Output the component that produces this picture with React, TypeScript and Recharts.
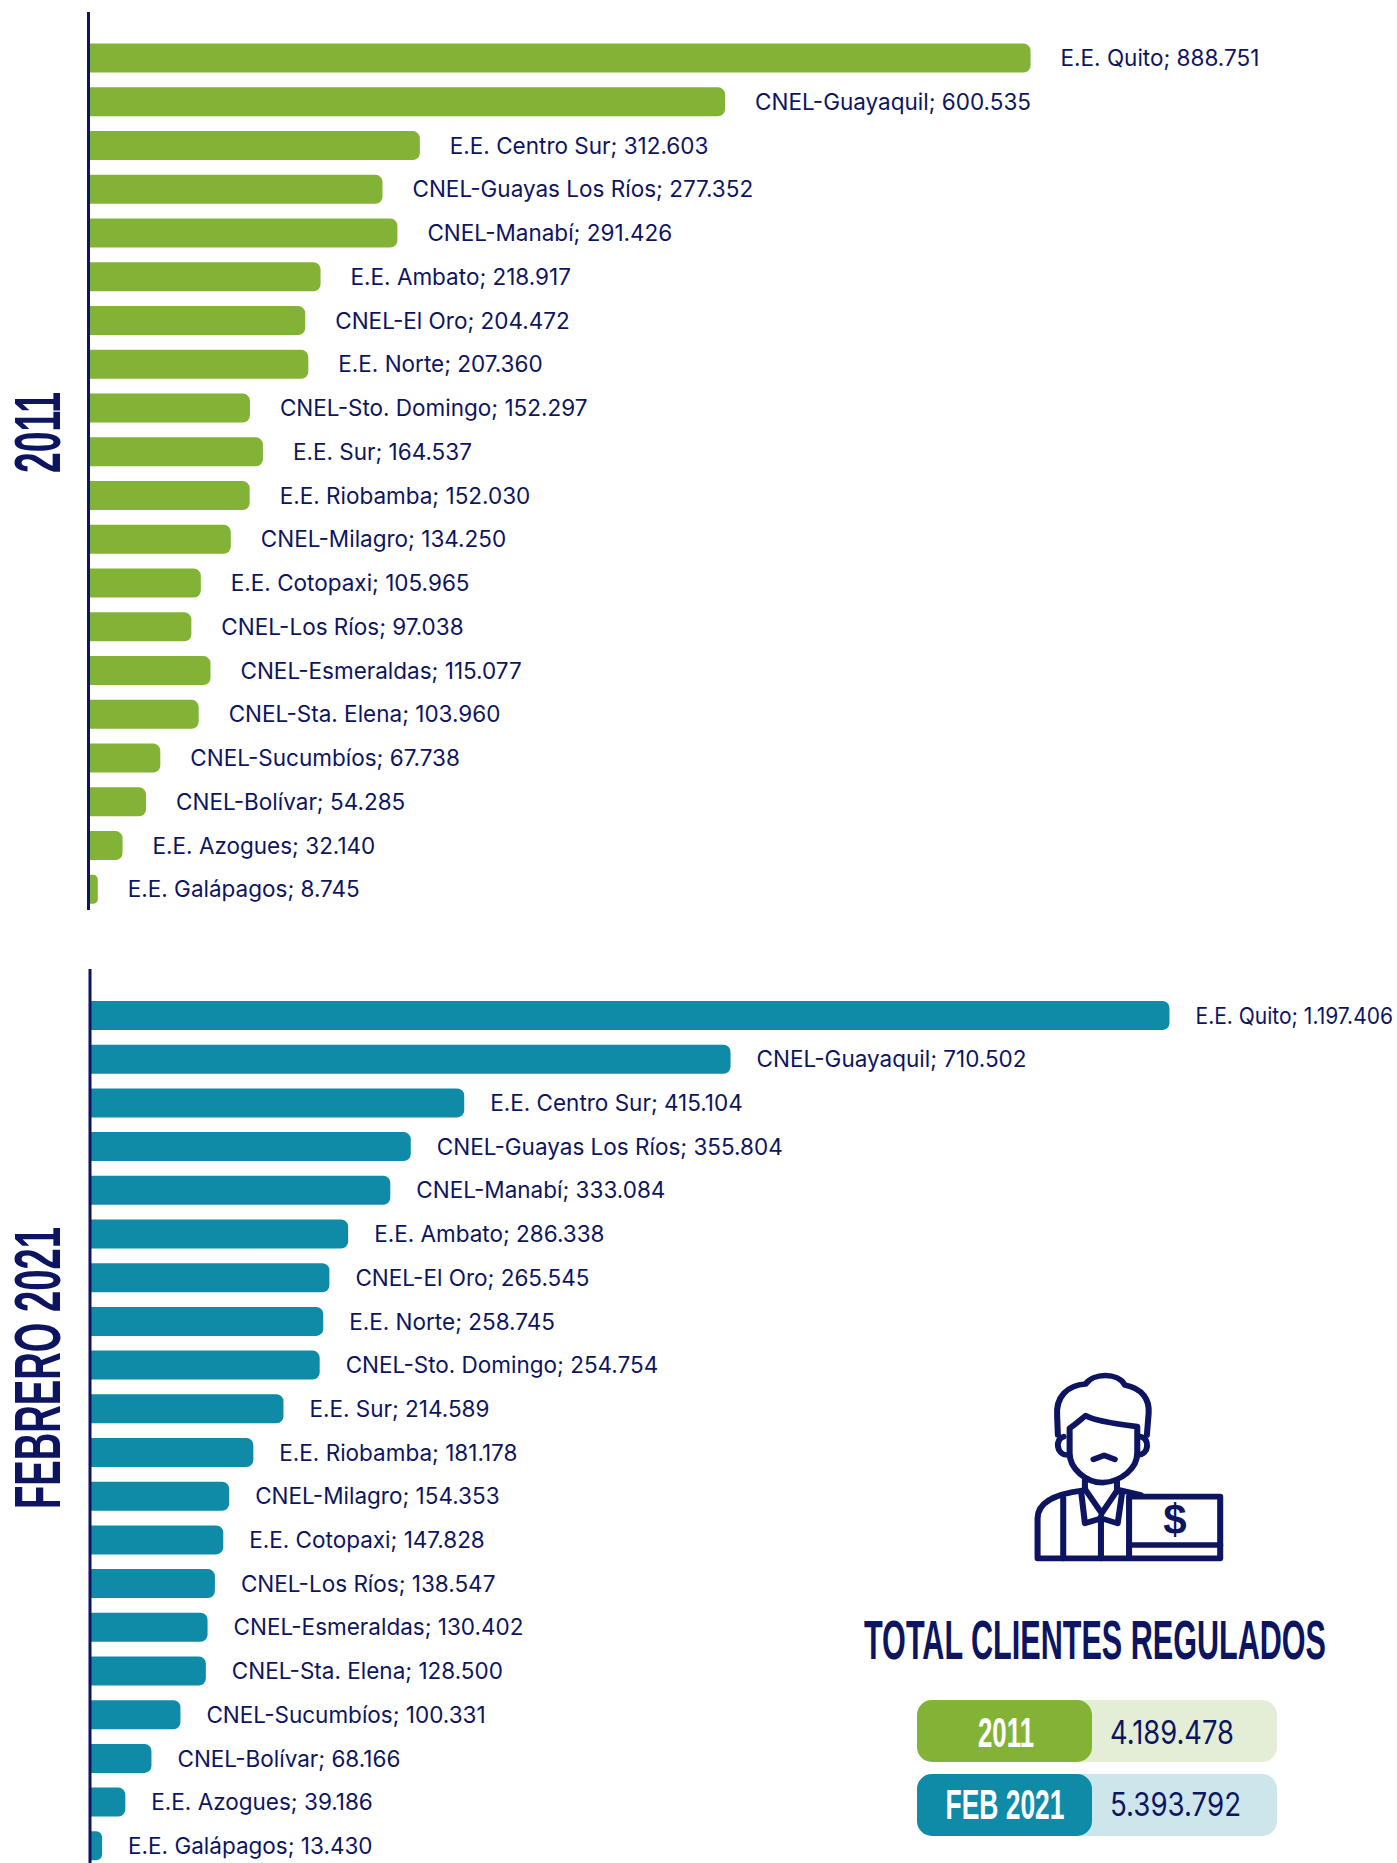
import React from "react";
import { BarChart, Bar, XAxis, YAxis, LabelList } from "recharts";

const companies = [
  "E.E. Quito", "CNEL-Guayaquil", "E.E. Centro Sur", "CNEL-Guayas Los Ríos", "CNEL-Manabí",
  "E.E. Ambato", "CNEL-El Oro", "E.E. Norte", "CNEL-Sto. Domingo", "E.E. Sur",
  "E.E. Riobamba", "CNEL-Milagro", "E.E. Cotopaxi", "CNEL-Los Ríos", "CNEL-Esmeraldas",
  "CNEL-Sta. Elena", "CNEL-Sucumbíos", "CNEL-Bolívar", "E.E. Azogues", "E.E. Galápagos",
];
const clients2011 = [
  888751, 600535, 312603, 277352, 291426, 218917, 204472, 207360, 152297, 164537,
  152030, 134250, 105965, 97038, 115077, 103960, 67738, 54285, 32140, 8745,
];
const clients2021 = [
  1197406, 710502, 415104, 355804, 333084, 286338, 265545, 258745, 254754, 214589,
  181178, 154353, 147828, 138547, 130402, 128500, 100331, 68166, 39186, 13430,
];
const totalTitle = "TOTAL CLIENTES REGULADOS";
const totals = [
  { tag: "2011", value: "4.189.478" },
  { tag: "FEB 2021", value: "5.393.792" },
];

const NAVY = "#0D1560";
const GREEN = "#82B336";
const TEAL = "#0F8BA8";
const BODY = "Inter, sans-serif";
const CONDENSED = "'Liberation Sans Narrow', 'Liberation Sans', sans-serif";
const PAGE_WIDTH = 1397;
const LABEL_SIZE = 22.5;
const LABEL_CHAR_WIDTH = 10.9;

const fmt = (v: number) => String(v).replace(/\B(?=(\d{3})+(?!\d))/g, ".");
const rows = (values: number[]) =>
  companies.map((name, i) => ({ name, value: values[i], label: `${name}; ${fmt(values[i])}` }));

// Draws the "name; value" label after the bar end; a label that would run off the page is condensed to fit.
const barLabel = (gap: number) => (props: any) => {
  const box = props.viewBox ?? props;
  const x = Number(box.x) + Number(box.width) + gap;
  const y = Number(box.y) + Number(box.height) / 2;
  const text = String(props.value);
  const room = PAGE_WIDTH - 4 - x;
  const fit = text.length * LABEL_CHAR_WIDTH > room ? { textLength: room, lengthAdjust: "spacingAndGlyphs" } : {};
  return (
    <text x={x} y={y} dy="0.36em" fontFamily={BODY} fontSize={LABEL_SIZE} fill={NAVY} {...fit}>
      {text}
    </text>
  );
};

function Panel({ data, color, top, height, left, plotWidth, max, gap, padTop, padBottom }: any) {
  return (
    <div style={{ position: "absolute", left: 0, top }}>
      <BarChart
        width={PAGE_WIDTH}
        height={height}
        layout="vertical"
        data={rows(data)}
        margin={{ top: 0, right: PAGE_WIDTH - left - plotWidth, bottom: 0, left: left - 1 }}
        barCategoryGap={0}
      >
        <XAxis type="number" domain={[0, max]} hide />
        <YAxis
          type="category"
          dataKey="name"
          width={1}
          tick={false}
          tickLine={false}
          axisLine={{ stroke: NAVY, strokeWidth: 3 }}
          padding={{ top: padTop, bottom: padBottom }}
        />
        <Bar dataKey="value" fill={color} barSize={29} radius={[0, 7, 7, 0]} isAnimationActive={false}>
          <LabelList dataKey="label" content={barLabel(gap)} />
        </Bar>
      </BarChart>
    </div>
  );
}

function Overlay() {
  return (
    <svg width={PAGE_WIDTH} height={1863} style={{ position: "absolute", left: 0, top: 0, pointerEvents: "none" }}>
      <text
        transform="translate(60,473) rotate(-90)"
        fontFamily={CONDENSED}
        fontWeight={700}
        fontSize={65}
        fill={NAVY}
        textLength={81}
        lengthAdjust="spacingAndGlyphs"
      >
        2011
      </text>
      <text
        transform="translate(60,1509) rotate(-90)"
        fontFamily={CONDENSED}
        fontWeight={700}
        fontSize={65}
        fill={NAVY}
        textLength={282}
        lengthAdjust="spacingAndGlyphs"
      >
        FEBRERO 2021
      </text>

      <g
        transform="translate(840,1340) scale(0.356,0.3333)"
        fill="none"
        stroke={NAVY}
        strokeWidth={17}
        strokeLinejoin="round"
        strokeLinecap="round"
      >
        <path d="M612 285 L610 230 C605 170 640 135 690 132 C710 100 780 95 800 135 C850 145 870 180 867 220 L862 285" />
        <path d="M645 265 C665 250 680 235 690 227 C710 240 760 250 835 260 L835 340 C835 385 790 425 738 428 C690 428 645 385 645 340 Z" />
        <path d="M628 290 C605 295 605 345 640 345" />
        <path d="M845 290 C870 295 870 345 835 345" />
        <path d="M712 358 L742 346 L772 358" />
        <path d="M688 422 V450" />
        <path d="M778 425 V455" />
        <path d="M690 450 L735 520 L778 452" />
        <path d="M678 460 L688 550 L735 535 L780 550 L792 462" />
        <path d="M680 452 C620 460 555 480 555 535 V655 H1068 V470 H812 V655" />
        <path d="M785 450 L845 465" />
        <path d="M812 615 H1068" />
        <path d="M627 475 V655" />
        <path d="M733 530 V655" />
      </g>
      <text x={1175} y={1534} textAnchor="middle" fontFamily={CONDENSED} fontWeight={700} fontSize={42} fill={NAVY}>
        $
      </text>

      <text
        x={864}
        y={1659}
        fontFamily={CONDENSED}
        fontWeight={700}
        fontSize={56}
        fill={NAVY}
        textLength={462}
        lengthAdjust="spacingAndGlyphs"
      >
        {totalTitle}
      </text>

      <rect x={917} y={1700} width={360} height={62} rx={15} fill="#E4EED7" />
      <rect x={917} y={1700} width={175} height={62} rx={15} fill={GREEN} />
      <text x={1006} y={1747} textAnchor="middle" fontFamily={CONDENSED} fontWeight={700} fontSize={42} fill="#fff" textLength={56} lengthAdjust="spacingAndGlyphs">
        {totals[0].tag}
      </text>
      <text x={1110} y={1744} fontFamily={BODY} fontSize={32} fill={NAVY} textLength={124} lengthAdjust="spacingAndGlyphs">
        {totals[0].value}
      </text>

      <rect x={917} y={1774} width={360} height={62} rx={15} fill="#CDE6EC" />
      <rect x={917} y={1774} width={175} height={62} rx={15} fill={TEAL} />
      <text x={1005} y={1819} textAnchor="middle" fontFamily={CONDENSED} fontWeight={700} fontSize={42} fill="#fff" textLength={119} lengthAdjust="spacingAndGlyphs">
        {totals[1].tag}
      </text>
      <text x={1110} y={1816} fontFamily={BODY} fontSize={32} fill={NAVY} textLength={131} lengthAdjust="spacingAndGlyphs">
        {totals[1].value}
      </text>
    </svg>
  );
}

export default function App() {
  return (
    <div style={{ position: "absolute", left: 0, top: 0, width: PAGE_WIDTH, height: 1863, overflow: "hidden", background: "#fff" }}>
      <Panel data={clients2011} color={GREEN} top={12} height={898} left={88.5} plotWidth={1060} max={1000000} gap={30} padTop={24.6} padBottom={-1.6} />
      <Panel data={clients2021} color={TEAL} top={969} height={901} left={90} plotWidth={1172} max={1300000} gap={26} padTop={25} padBottom={2} />
      <Overlay />
    </div>
  );
}
